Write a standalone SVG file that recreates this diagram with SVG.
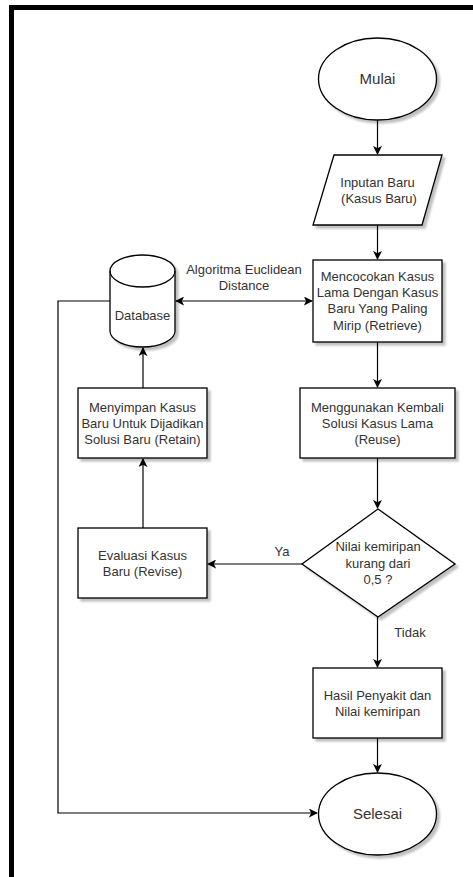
<svg xmlns="http://www.w3.org/2000/svg" width="473" height="877" viewBox="0 0 473 877">
<defs>
<filter id="sh" x="-20%" y="-20%" width="150%" height="150%">
<feGaussianBlur in="SourceAlpha" stdDeviation="1.2"/>
<feOffset dx="3" dy="3" result="b"/>
<feComponentTransfer><feFuncA type="linear" slope="0.25"/></feComponentTransfer>
<feMerge><feMergeNode/><feMergeNode in="SourceGraphic"/></feMerge>
</filter>
<marker id="ah" viewBox="0 0 10 10" refX="9" refY="5" markerWidth="9" markerHeight="9" markerUnits="userSpaceOnUse" orient="auto-start-reverse">
<path d="M0,0 L10,5 L0,10 L2.5,5 Z" fill="#000"/>
</marker>
</defs>
<style>
.s{fill:#fff;stroke:#000;stroke-width:1.3;filter:url(#sh)}
.t{font-family:"Liberation Sans",Arial,sans-serif;font-size:13px;fill:#333;text-anchor:middle}
.b{font-size:15px}
.c{fill:none;stroke:#000;stroke-width:1.2}
</style>
<rect x="9" y="5" width="464" height="5" fill="#000"/>
<rect x="9" y="5" width="5" height="872" fill="#000"/>

<g id="connectors">
<path class="c" d="M377.5,120 V154" marker-end="url(#ah)"/>
<path class="c" d="M377.5,225 V259" marker-end="url(#ah)"/>
<path class="c" d="M176,301 H312" marker-start="url(#ah)" marker-end="url(#ah)"/>
<path class="c" d="M377.5,342 V387" marker-end="url(#ah)"/>
<path class="c" d="M377.5,458 V508" marker-end="url(#ah)"/>
<path class="c" d="M302,564 H208" marker-end="url(#ah)"/>
<path class="c" d="M143,528 V459" marker-end="url(#ah)"/>
<path class="c" d="M143,388 V348" marker-end="url(#ah)"/>
<path class="c" d="M377.5,617 V667" marker-end="url(#ah)"/>
<path class="c" d="M377.5,738 V772" marker-end="url(#ah)"/>
<path class="c" d="M110,301 H58 V813 H317" marker-end="url(#ah)"/>
<text class="t" x="244" y="274">Algoritma Euclidean</text>
<text class="t" x="244" y="290">Distance</text>
<text class="t" x="282" y="556">Ya</text>
<text class="t" x="410" y="637">Tidak</text>
</g>

<g id="mulai">
<ellipse class="s" cx="377.5" cy="79" rx="59" ry="41"/>
<text class="t b" x="377.5" y="84">Mulai</text>
</g>

<g id="inputan">
<polygon class="s" points="334,155 442,155 422,225 313,225"/>
<text class="t" x="377.5" y="187">Inputan Baru</text>
<text class="t" x="379" y="203">(Kasus Baru)</text>
</g>

<g id="retrieve">
<rect class="s" x="313" y="260" width="129" height="82"/>
<text class="t" x="377.5" y="281">Mencocokan Kasus</text>
<text class="t" x="377.5" y="297">Lama Dengan Kasus</text>
<text class="t" x="377.5" y="313">Baru Yang Paling</text>
<text class="t" x="377.5" y="330">Mirip (Retrieve)</text>
</g>

<g id="database">
<path class="s" d="M110,271 A32.5,16 0 0 1 175,271 V331 A32.5,16 0 0 1 110,331 Z"/>
<path fill="none" stroke="#000" stroke-width="1.3" d="M110,271 A32.5,16 0 0 0 175,271"/>
<text class="t" x="142.5" y="320">Database</text>
</g>

<g id="retain">
<rect class="s" x="78" y="388" width="129" height="70"/>
<text class="t" x="142.5" y="412">Menyimpan Kasus</text>
<text class="t" x="142.5" y="428">Baru Untuk Dijadikan</text>
<text class="t" x="142.5" y="444">Solusi Baru (Retain)</text>
</g>

<g id="reuse">
<rect class="s" x="300" y="388" width="155" height="70"/>
<text class="t" x="377.5" y="412">Menggunakan Kembali</text>
<text class="t" x="377.5" y="428">Solusi Kasus Lama</text>
<text class="t" x="377.5" y="444">(Reuse)</text>
</g>

<g id="decision">
<polygon class="s" points="378,509 455,564 378,617 302,564"/>
<text class="t" x="378" y="551">Nilai kemiripan</text>
<text class="t" x="378" y="568">kurang dari</text>
<text class="t" x="378" y="584">0,5 ?</text>
</g>

<g id="revise">
<rect class="s" x="78" y="528" width="129" height="70"/>
<text class="t" x="142.5" y="560">Evaluasi Kasus</text>
<text class="t" x="142.5" y="576">Baru (Revise)</text>
</g>

<g id="hasil">
<rect class="s" x="313" y="668" width="129" height="70"/>
<text class="t" x="377.5" y="700">Hasil Penyakit dan</text>
<text class="t" x="377.5" y="716">Nilai kemiripan</text>
</g>

<g id="selesai">
<ellipse class="s" cx="377.5" cy="814" rx="59" ry="41"/>
<text class="t b" x="377.5" y="819">Selesai</text>
</g>
</svg>
